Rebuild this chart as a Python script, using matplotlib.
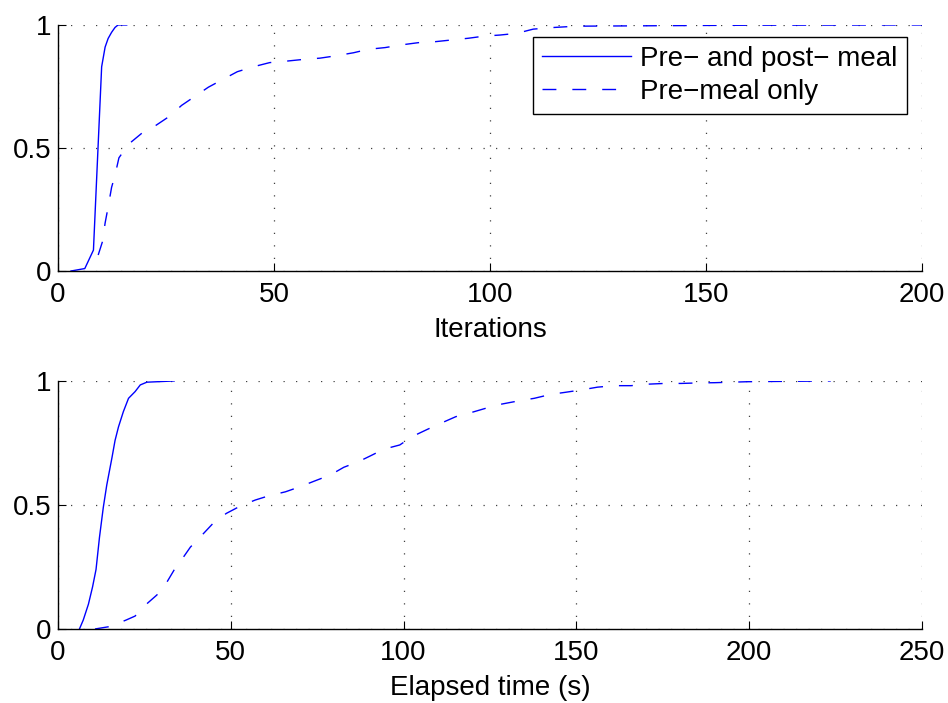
import matplotlib
matplotlib.use("Agg")
import matplotlib.pyplot as plt

plt.rcParams['font.family'] = ['Liberation Sans', 'DejaVu Sans']
plt.rcParams['font.size'] = 20

# Convergence curves versus iteration count
iter_full_x = [3, 6.2, 8.2, 10.1, 10.9, 11.6, 12.4, 13.2, 13.9, 15.9]
iter_full_y = [0, 0.01, 0.085, 0.83, 0.91, 0.945, 0.97, 0.99, 1.0, 1.0]

iter_pre_x = [9.3, 10.3, 10.9, 11.6, 12.4, 13.2, 14.1, 16.3, 19.4, 22.5, 25.9, 28.6,
              31.7, 34.8, 38.3, 41.5, 45.2, 49, 52.9, 56.8, 60.6, 64.1, 68.4, 71.8,
              75.7, 79.5, 83.4, 87.3, 91.1, 95, 98.8, 102.3, 106.2, 110, 115, 120,
              140, 160, 200]
iter_pre_y = [0.065, 0.12, 0.195, 0.26, 0.34, 0.39, 0.46, 0.515, 0.56, 0.59, 0.63, 0.673,
              0.71, 0.747, 0.78, 0.81, 0.83, 0.847, 0.853, 0.86, 0.865, 0.874, 0.887, 0.901,
              0.908, 0.919, 0.928, 0.932, 0.939, 0.946, 0.955, 0.959, 0.966, 0.983, 0.99, 0.995,
              0.997, 0.999, 1.0]

# Convergence curves versus elapsed time
time_full_x = [6.2, 7.3, 8.8, 10.0, 11.0, 12.0, 13.1, 14.1, 15.6, 16.5, 17.5, 18.9,
               20.4, 22.3, 23.8, 25.7, 33.6]
time_full_y = [0, 0.036, 0.10, 0.17, 0.24, 0.37, 0.49, 0.58, 0.69, 0.76, 0.815, 0.876,
               0.93, 0.957, 0.984, 0.995, 1.0]

time_pre_x = [10.7, 15.1, 19.7, 22.3, 25, 28.6, 31, 33.6, 35.7, 38.3, 42.1, 45, 48.7,
              52.8, 57.1, 61, 65.8, 69.9, 74.5, 78.8, 82.7, 87, 90.4, 94.3, 98.9, 102.5,
              106.9, 110.7, 115.1, 119.4, 123.8, 128.1, 133, 137.8, 142.6, 146.7, 151.5,
              156.1, 161, 165.8, 170.6, 175.5, 180.3, 185.1, 190, 194.8, 199.6, 223.6]
time_pre_y = [0, 0.01, 0.036, 0.052, 0.093, 0.137, 0.177, 0.238, 0.278, 0.33, 0.385, 0.428,
              0.466, 0.496, 0.52, 0.537, 0.553, 0.573, 0.598, 0.621, 0.652, 0.675, 0.698,
              0.725, 0.742, 0.776, 0.805, 0.829, 0.856, 0.872, 0.89, 0.906, 0.919, 0.93,
              0.946, 0.954, 0.964, 0.975, 0.981, 0.981, 0.987, 0.99, 0.99, 0.992, 0.993,
              0.995, 0.997, 1.0]

series_labels = ['Pre\u2212 and post\u2212 meal', 'Pre\u2212meal only']
yticks = [0, 0.5, 1]
ytick_labels = ['0', '0.5', '1']
xticks_top = [0, 50, 100, 150, 200]
xticks_bottom = [0, 50, 100, 150, 200, 250]

BLUE = '#0000ff'
DASH = (0, (10, 11.5))

fig = plt.figure(figsize=(9.48, 7.03), dpi=100)
ax1 = fig.add_axes([0.0612, 0.6145, 0.9114, 0.350])
ax2 = fig.add_axes([0.0612, 0.1053, 0.9114, 0.3528])


def style(ax, xticks, xmax, xlabel):
    ax.set_xlim(0, xmax)
    ax.set_ylim(0, 1)
    ax.set_xticks(xticks)
    ax.set_yticks(yticks)
    ax.set_yticklabels(ytick_labels)
    for s in ('top', 'right'):
        ax.spines[s].set_visible(False)
    for s in ('left', 'bottom'):
        ax.spines[s].set_linewidth(1.0)
    ax.tick_params(direction='in', length=5.5, width=0.8, labelsize=20)
    ax.tick_params(axis='x', pad=8)
    ax.tick_params(axis='y', pad=5)
    ax.grid(True, color='0.25', linestyle=(0, (1, 9)), linewidth=0.9)
    ax.set_axisbelow(True)
    ax.set_xlabel(xlabel, fontsize=20, labelpad=6.5)


ax1.plot(iter_full_x, iter_full_y, color=BLUE, linewidth=1.0, label=series_labels[0])
ax1.plot(iter_pre_x, iter_pre_y, color=BLUE, linewidth=1.0, linestyle=DASH,
         label=series_labels[1])
style(ax1, xticks_top, 200, 'Iterations')
leg = ax1.legend(loc='upper right', bbox_to_anchor=(0.9826, 0.951), borderaxespad=0,
                 fancybox=False, framealpha=1, edgecolor='black', fontsize=20,
                 handlelength=3.2, handletextpad=0.35, labelspacing=0.25,
                 borderpad=0.33)
leg.get_frame().set_linewidth(1.0)

ax2.plot(time_full_x, time_full_y, color=BLUE, linewidth=1.0)
ax2.plot(time_pre_x, time_pre_y, color=BLUE, linewidth=1.0, linestyle=DASH)
style(ax2, xticks_bottom, 250, 'Elapsed time (s)')

fig.savefig('out.png', dpi=100)
